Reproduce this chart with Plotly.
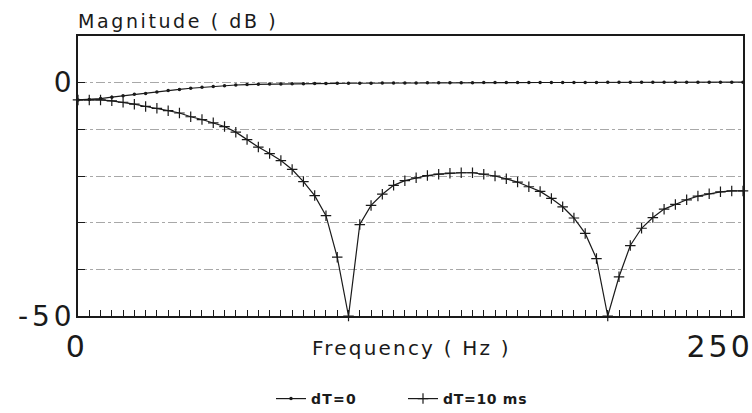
import plotly.graph_objects as go

# ---- data ----
f_max = 250.0
n_points = 60
freq_step = f_max / (n_points - 1)
freq_hz = [round(i * freq_step, 3) for i in range(n_points)]

mag_dT0_db = [
    -3.7, -3.6, -3.4, -3.1, -2.8, -2.5, -2.3, -2.0, -1.7, -1.45,
    -1.2, -1.0, -0.8, -0.65, -0.5, -0.4, -0.35, -0.3, -0.27, -0.24,
    -0.21, -0.19, -0.17, -0.15, -0.13, -0.11, -0.1, -0.08, -0.07, -0.06,
    -0.05, -0.04, -0.03, -0.02, -0.01, 0.0, 0.01, 0.02, 0.02, 0.03,
    0.03, 0.04, 0.04, 0.05, 0.05, 0.06, 0.06, 0.07, 0.07, 0.08,
    0.08, 0.08, 0.09, 0.09, 0.09, 0.1, 0.1, 0.1, 0.1, 0.1,
]

mag_dT10_db = [
    -3.7, -3.7, -3.7, -3.9, -4.2, -4.6, -5.1, -5.5, -6.0, -6.5,
    -7.3, -7.9, -8.6, -9.4, -10.6, -12.2, -13.8, -15.2, -16.7, -18.6,
    -21.2, -24.2, -28.5, -37.4, -50.0, -30.4, -26.3, -23.9, -22.0, -21.0,
    -20.4, -19.9, -19.6, -19.4, -19.3, -19.3, -19.6, -20.0, -20.6, -21.3,
    -22.3, -23.3, -24.8, -26.6, -29.0, -32.3, -37.7, -50.0, -41.6, -34.9,
    -31.2, -28.9, -27.1, -26.1, -25.1, -24.3, -23.8, -23.4, -23.2, -23.2,
]

series_names = ["dT=0", "dT=10 ms"]
y_tick_vals = [-50, -40, -30, -20, -10, 0]
y_tick_text = ["-50", "", "", "", "", "0"]
x_tick_vals = [0, 250]
x_tick_text = ["0", "250"]
y_title = "Magnitude ( dB )"
x_title = "Frequency ( Hz )"

FONT = "DejaVu Sans"
INK = "#1a1a1a"


def spaced(txt, px):
    """Letter-spacing between characters only (no trailing gap)."""
    if len(txt) < 2:
        return txt
    return f'<span style="letter-spacing:{px}px">{txt[:-1]}</span>{txt[-1]}'


fig = go.Figure()
fig.add_trace(go.Scatter(
    x=freq_hz, y=mag_dT0_db, name=spaced(series_names[0], 1.2), mode="lines+markers",
    line=dict(color=INK, width=1.2),
    marker=dict(symbol="circle", size=3.5, color=INK),
    cliponaxis=False,
))
fig.add_trace(go.Scatter(
    x=freq_hz, y=mag_dT10_db, name=spaced(series_names[1], 0.7), mode="lines+markers",
    line=dict(color=INK, width=1.2),
    marker=dict(symbol="cross-thin", size=7.5, line=dict(color=INK, width=1.2)),
    cliponaxis=False,
))

fig.update_layout(
    width=752, height=413,
    margin=dict(l=78, r=9, t=36, b=97, autoexpand=False),
    paper_bgcolor="white", plot_bgcolor="white",
    font=dict(family=FONT, color=INK),
    showlegend=True,
    legend=dict(
        orientation="h", xref="container", yref="container",
        x=271 / 752, xanchor="left", y=1 - 399 / 413, yanchor="middle",
        entrywidth=87, entrywidthmode="pixels",
        font=dict(family=FONT, size=14, color=INK, weight="bold"),
        bgcolor="rgba(0,0,0,0)",
    ),
    annotations=[
        dict(text=spaced(y_title, 2.6), xref="paper", yref="paper", x=-0.003, y=1.054,
             xanchor="left", yanchor="middle", showarrow=False,
             font=dict(family=FONT, size=19, color=INK)),
        dict(text=spaced(x_title, 2.2), xref="paper", yref="paper", x=0.5, y=-0.114,
             xanchor="center", yanchor="middle", showarrow=False,
             font=dict(family=FONT, size=20, color=INK)),
    ],
)

fig.update_xaxes(
    range=[0, f_max], showline=True, linecolor=INK, linewidth=1.5, mirror=True,
    showgrid=False, zeroline=False, automargin=False,
    tickmode="array", tickvals=x_tick_vals,
    ticktext=[spaced(t, 3) for t in x_tick_text],
    ticklabelposition="outside left", ticklabelshift=8,
    ticks="inside", ticklen=6, tickcolor=INK, tickwidth=1,
    ticklabelstandoff=3,
    tickfont=dict(family=FONT, size=30, color=INK),
    minor=dict(tickmode="linear", tick0=0, dtick=freq_step, ticks="inside",
               ticklen=6, tickcolor=INK, tickwidth=1, showgrid=False),
)
fig.update_yaxes(
    range=[-50, 10], showline=True, linecolor=INK, linewidth=1.5, mirror=True,
    showgrid=True, gridcolor="#a8a8a8", gridwidth=1, griddash="dashdot",
    zeroline=False, automargin=False,
    tickmode="array", tickvals=y_tick_vals,
    ticktext=[spaced(t, 4) for t in y_tick_text],
    ticks="inside", ticklen=7, tickcolor=INK, tickwidth=1,
    ticklabelstandoff=-1,
    tickfont=dict(family=FONT, size=28, color=INK),
)

fig.write_html("out.html")
